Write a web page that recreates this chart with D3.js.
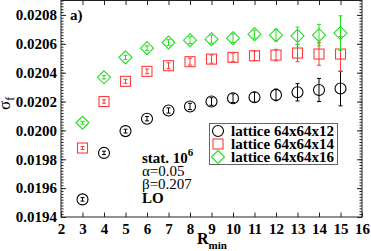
<!DOCTYPE html>
<html>
<head>
<meta charset="utf-8">
<script src="https://cdn.jsdelivr.net/npm/d3@7"></script>
<style>
  body { margin: 0; background: #fff; }
  svg { display: block; font-family: "Liberation Serif", "Times New Roman", serif; }
</style>
</head>
<body>
<svg id="chart" width="371" height="251"></svg>
<script>
var rMin = [3, 4, 5, 6, 7, 8, 9, 10, 11, 12, 13, 14, 15];

var sigma12 = [0.019522, 0.019844, 0.019995, 0.020081, 0.020138, 0.020166, 0.020200, 0.020223, 0.020230, 0.020246, 0.020264, 0.020280, 0.020290];
var err12   = [0.000012, 0.000012, 0.000013, 0.000015, 0.000018, 0.000022, 0.000026, 0.000030, 0.000034, 0.000040, 0.000060, 0.000080, 0.000120];

var sigma14 = [0.019878, 0.020200, 0.020340, 0.020409, 0.020448, 0.020476, 0.020494, 0.020506, 0.020517, 0.020522, 0.020536, 0.020529, 0.020529];
var err14   = [0.000010, 0.000012, 0.000014, 0.000016, 0.000020, 0.000024, 0.000028, 0.000030, 0.000034, 0.000040, 0.000060, 0.000078, 0.000120];

var sigma16 = [0.020053, 0.020368, 0.020506, 0.020570, 0.020609, 0.020625, 0.020632, 0.020639, 0.020667, 0.020660, 0.020655, 0.020660, 0.020674];
var err16   = [0.000010, 0.000012, 0.000014, 0.000016, 0.000020, 0.000024, 0.000028, 0.000030, 0.000028, 0.000040, 0.000060, 0.000075, 0.000120];

var xTicks = [2, 3, 4, 5, 6, 7, 8, 9, 10, 11, 12, 13, 14, 15, 16];
var yTicks = [0.0194, 0.0196, 0.0198, 0.0200, 0.0202, 0.0204, 0.0206, 0.0208];
var legendLabels = ['lattice 64x64x12', 'lattice 64x64x14', 'lattice 64x64x16'];

(function(){
    'use strict';

    var series = [
        { name: legendLabels[0], y: sigma12, e: err12, color: '#000000', shape: 'circle' },
        { name: legendLabels[1], y: sigma14, e: err14, color: '#ff3b3b', shape: 'square' },
        { name: legendLabels[2], y: sigma16, e: err16, color: '#22e022', shape: 'diamond' }
    ];

    var svg = d3.select('#chart'),
        pLeft = 61, pRight = 362, pTop = 0.5, pBottom = 217;

    var x = d3.scaleLinear().domain([2, 16]).range([pLeft, pRight]),
        y = d3.scaleLinear().domain([0.0194, 0.0209]).range([pBottom, pTop]);

    var minorY = d3.range(0, 76).map(function( i ){ return 0.0194 + i * 0.00002; });

    function styleAxis( g ){
        g.select('.domain').remove();
        g.selectAll('line').attr('stroke', '#222').attr('stroke-width', 1);
        g.selectAll('text').attr('fill', '#000').attr('font-weight', 'bold')
            .attr('font-size', 15).attr('font-family', '"Liberation Serif", serif');
    }

    // minor ticks, left and right
    svg.append('g').attr('transform', 'translate(' + pLeft + ',0)')
        .call(d3.axisLeft(y).tickValues(minorY).tickSize(-2.5).tickFormat(''))
        .call(styleAxis);
    svg.append('g').attr('transform', 'translate(' + pRight + ',0)')
        .call(d3.axisRight(y).tickValues(minorY).tickSize(-2.5).tickFormat(''))
        .call(styleAxis);

    // major y ticks
    svg.append('g').attr('transform', 'translate(' + pLeft + ',0)')
        .call(d3.axisLeft(y).tickValues(yTicks).tickSize(-5).tickPadding(4).tickFormat(d3.format('.4f')))
        .call(styleAxis);
    svg.append('g').attr('transform', 'translate(' + pRight + ',0)')
        .call(d3.axisRight(y).tickValues(yTicks).tickSize(-5).tickFormat(''))
        .call(styleAxis);

    // x ticks, bottom and top
    svg.append('g').attr('transform', 'translate(0,' + pBottom + ')')
        .call(d3.axisBottom(x).tickValues(xTicks).tickSize(-4.5).tickPadding(4).tickFormat(d3.format('d')))
        .call(styleAxis)
        .selectAll('text').attr('dy', '0.85em');
    svg.append('g').attr('transform', 'translate(0,' + pTop + ')')
        .call(d3.axisTop(x).tickValues(xTicks.slice(1, -1)).tickSize(-4.5).tickFormat(''))
        .call(styleAxis);

    // frame
    svg.append('rect')
        .attr('x', pLeft).attr('y', pTop)
        .attr('width', pRight - pLeft).attr('height', pBottom - pTop)
        .attr('fill', 'none').attr('stroke', '#222').attr('stroke-width', 1);

    function drawMarker( g, shape, color ){
        if( shape === 'circle' ){
            g.append('circle').attr('r', 5.5);
        } else if( shape === 'square' ){
            g.append('rect').attr('x', -5).attr('y', -5).attr('width', 10).attr('height', 10);
        } else {
            g.append('path').attr('d', 'M0,-6.5L6.5,0L0,6.5L-6.5,0Z');
        }
        g.selectAll('*').attr('fill', 'none').attr('stroke', color).attr('stroke-width', 1.1);
    }

    series.forEach(function( s ){
        var g = svg.append('g');
        rMin.forEach(function( r, i ){
            var cx = x(r), y1 = y(s.y[i] + s.e[i]), y2 = y(s.y[i] - s.e[i]);
            var eb = g.append('g').attr('stroke', s.color).attr('stroke-width', 1);
            eb.append('line').attr('x1', cx).attr('x2', cx).attr('y1', y1).attr('y2', y2);
            eb.append('line').attr('x1', cx - 2).attr('x2', cx + 2).attr('y1', y1).attr('y2', y1);
            eb.append('line').attr('x1', cx - 2).attr('x2', cx + 2).attr('y1', y2).attr('y2', y2);
            var m = g.append('g').attr('transform', 'translate(' + cx + ',' + y(s.y[i]) + ')');
            drawMarker( m, s.shape, s.color );
        });
    });

    // legend
    var legend = svg.append('g');
    legend.append('rect')
        .attr('x', 209.5).attr('y', 123.5).attr('width', 128).attr('height', 41)
        .attr('fill', '#fff').attr('stroke', '#666').attr('stroke-width', 1);
    series.forEach(function( s, i ){
        var ly = 131 + i * 13;
        var m = legend.append('g').attr('transform', 'translate(218,' + ly + ')');
        drawMarker( m, s.shape, s.color );
        legend.append('text')
            .attr('x', 231).attr('y', ly + 5)
            .attr('font-size', 15).attr('font-weight', 'bold')
            .text(s.name);
    });

    // annotations
    var notes = svg.append('g').attr('font-size', 15);
    var stat = notes.append('text').attr('x', 142).attr('y', 163).attr('font-weight', 'bold');
    stat.append('tspan').text('stat. 10');
    stat.append('tspan').attr('dy', -7).attr('font-size', 11).text('6');
    notes.append('text').attr('x', 142).attr('y', 176).text('α=0.05');
    notes.append('text').attr('x', 142).attr('y', 189).text('β=0.207');
    notes.append('text').attr('x', 142).attr('y', 203).attr('font-weight', 'bold').text('LO');

    svg.append('text').attr('x', 70).attr('y', 20)
        .attr('font-size', 15).attr('font-weight', 'bold').text('a)');

    // axis titles
    var xl = svg.append('text').attr('x', 197).attr('y', 244)
        .attr('font-size', 16).attr('font-weight', 'bold');
    xl.append('tspan').text('R');
    xl.append('tspan').attr('dy', 5).attr('font-size', 11).text('min');

    var yl = svg.append('text')
        .attr('transform', 'translate(10,110) rotate(-90)')
        .attr('font-size', 17);
    yl.append('tspan').text('σ');
    yl.append('tspan').attr('dy', 4).attr('font-size', 12).text('f');
})();
</script>
</body>
</html>
